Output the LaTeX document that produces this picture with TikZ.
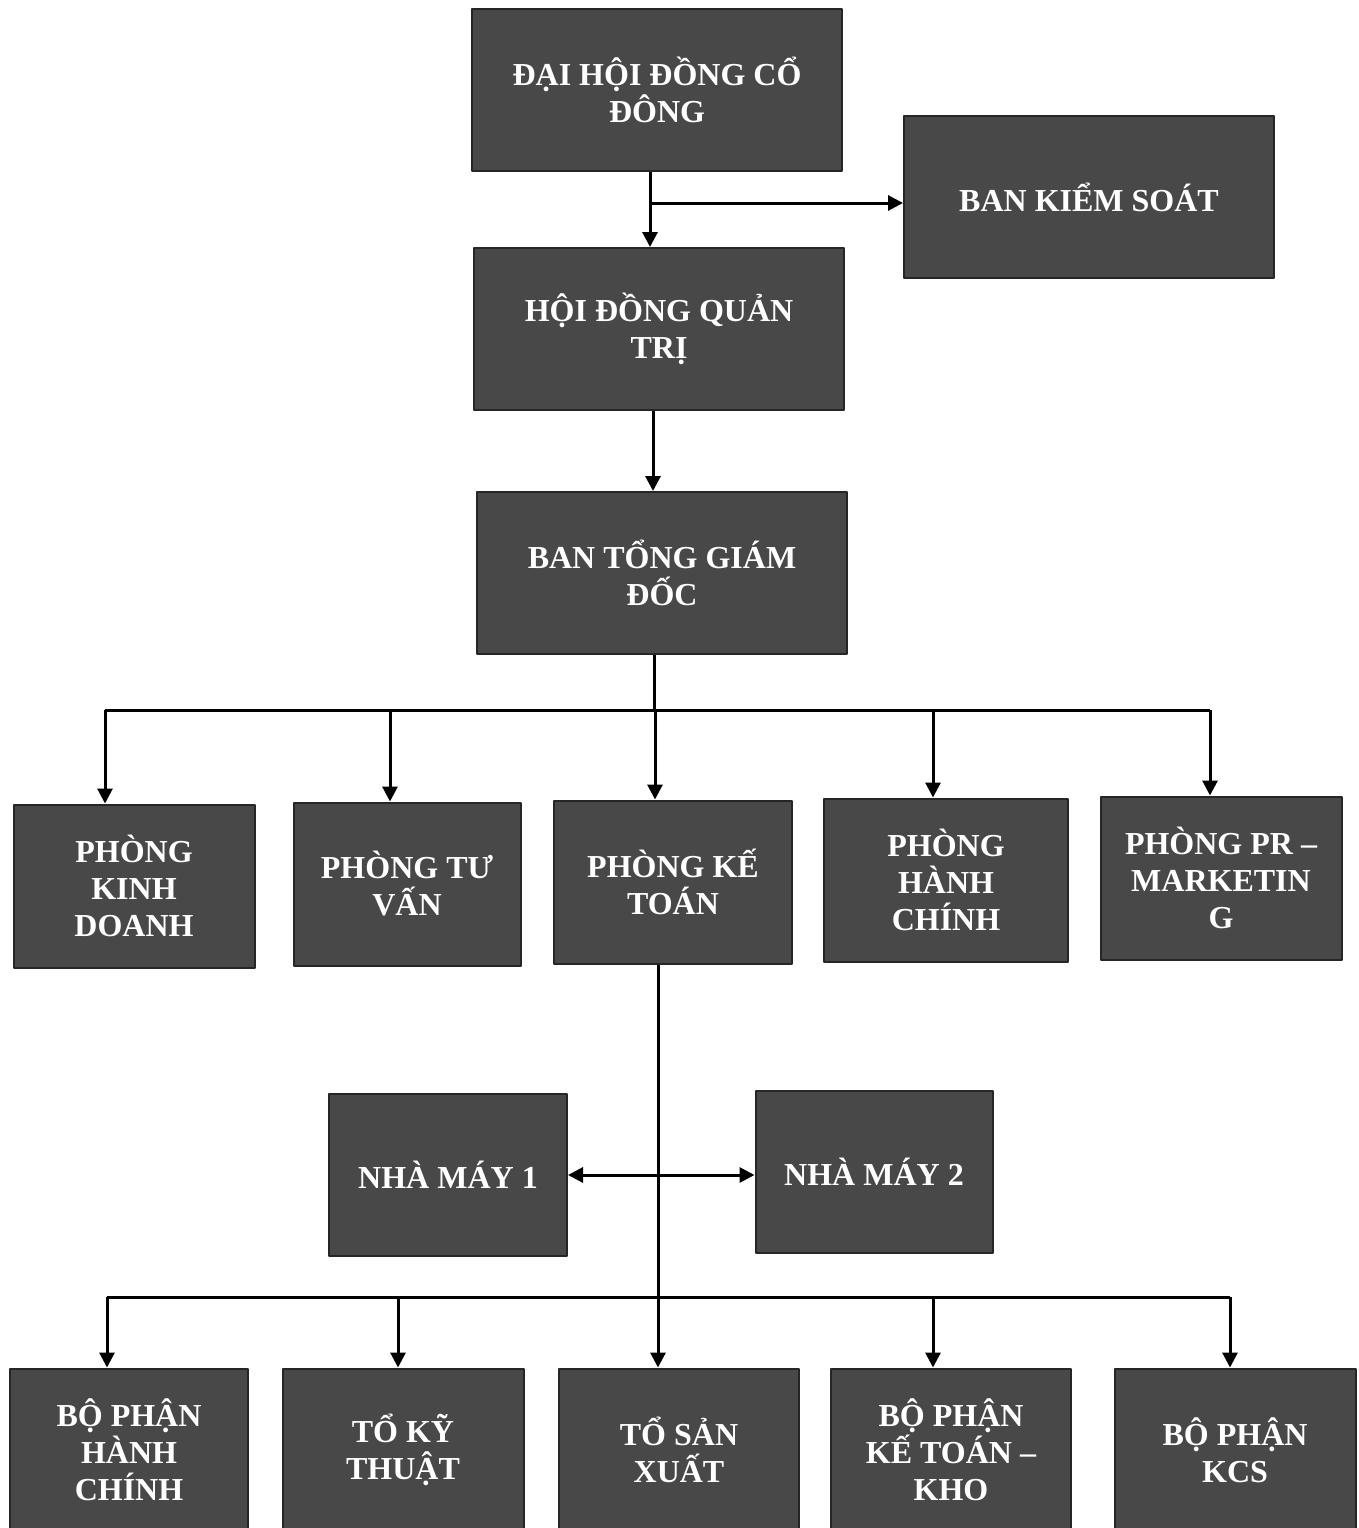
\documentclass[tikz,border=0pt]{standalone}
\usepackage{fontspec}
\setmainfont{Liberation Serif}
\usetikzlibrary{arrows.meta}
\definecolor{boxgray}{RGB}{72,72,72}
\tikzset{
  unit/.style={draw=black!85, line width=2pt, fill=boxgray, text=white, align=center,
    inner sep=0pt, font=\bfseries\fontsize{32}{37}\selectfont},
  wide/.style={unit, minimum width=370pt, minimum height=162pt},
  dept/.style={unit, minimum width=240pt, minimum height=163pt},
  link/.style={line width=3pt, -{Triangle[length=15pt,width=15pt]}}
}
\begin{document}
\begin{tikzpicture}[x=1pt, y=-1pt, line join=round]
        \def\busa{710} \def\busb{1297}
        \useasboundingbox (0,0) rectangle (1359,1528);
        \clip (0,0) rectangle (1359,1528);
        % top levels
        \node[wide] (dhdcd) at (657,90) {ĐẠI HỘI ĐỒNG CỔ\\ĐÔNG};
        \node[wide] (bks) at (1089,197) {BAN KIỂM SOÁT};
        \node[wide] (hdqt) at (659,329) {HỘI ĐỒNG QUẢN\\TRỊ};
        \node[wide] (btgd) at (662,573) {BAN TỔNG GIÁM\\ĐỐC};
        % departments
        \node[dept, minimum width=241pt] (pkd) at (134,886) {PHÒNG\\KINH\\DOANH};
        \node[dept, minimum width=227pt] (ptv) at (407,884) {PHÒNG TƯ\\VẤN};
        \node[dept, minimum width=238pt] (pkt) at (673,882) {PHÒNG KẾ\\TOÁN};
        \node[dept, minimum width=244pt] (phc) at (946,880) {PHÒNG\\HÀNH\\CHÍNH};
        \node[dept, minimum width=241pt] (ppr) at (1221,878) {PHÒNG PR –\\MARKETIN\\G};
        % factories
        \node[dept, minimum width=238pt, minimum height=162pt] (nm1) at (448,1175) {NHÀ MÁY 1};
        \node[dept, minimum width=237pt, minimum height=162pt] (nm2) at (874,1172) {NHÀ MÁY 2};
        % units
        \node[dept, minimum width=238pt] (bphc) at (129,1450) {BỘ PHẬN\\HÀNH\\CHÍNH};
        \node[dept, minimum width=241pt] (tkt) at (403,1450) {TỔ KỸ\\THUẬT};
        \node[dept] (tsx) at (679,1450) {TỔ SẢN\\XUẤT};
        \node[dept] (bpkt) at (951,1450) {BỘ PHẬN\\KẾ TOÁN –\\KHO};
        \node[dept, minimum width=241pt] (kcs) at (1235,1450) {BỘ PHẬN\\KCS};
        % connectors
        \coordinate (ja) at (650,0);
        \coordinate (jb) at (650,203);
        \draw[link] (ja |- dhdcd.south) -- (ja |- hdqt.north);
        \draw[link] (jb) -- (jb -| bks.west);
        \coordinate (jc) at (653,0);
        \draw[link] (jc |- hdqt.south) -- (jc |- btgd.north);
        \coordinate (ba) at (654,\busa);
        \draw[line width=3pt] (ba |- btgd.south) -- (ba);
        \draw[line width=3pt] (105,\busa) -- (1210,\busa);
        \foreach \n/\x in {pkd/105, ptv/390, pkt/655, phc/933, ppr/1210}{
          \coordinate (t) at (\x,\busa);
          \draw[link] (t) -- (t |- \n.north);
        }
        \coordinate (jk) at (658,0);
        \draw[link] (jk |- pkt.south) -- (jk |- tsx.north);
        \draw[line width=3pt, {Triangle[length=15pt,width=15pt]}-{Triangle[length=15pt,width=15pt]}]
          (nm1.east) -- (nm1.east -| nm2.west);
        \draw[line width=3pt] (107,\busb) -- (1230,\busb);
        \foreach \n/\x in {bphc/107, tkt/398, bpkt/933, kcs/1230}{
          \coordinate (t) at (\x,\busb);
          \draw[link] (t) -- (t |- \n.north);
        }
\end{tikzpicture}
\end{document}
